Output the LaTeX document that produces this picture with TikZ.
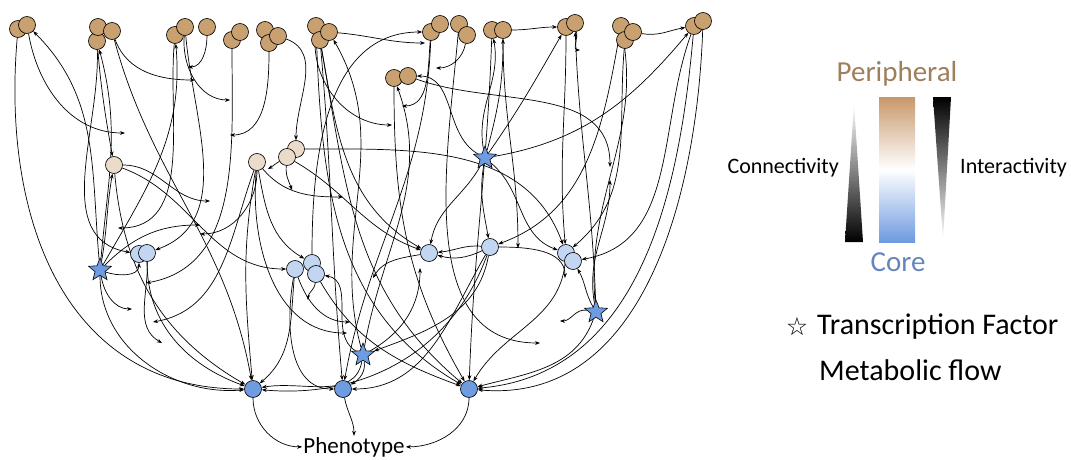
\documentclass[tikz,border=0pt]{standalone}
\usepackage{fontspec}
\setmainfont{Carlito}
\newfontfamily\dejavu{DejaVu Sans}
\usetikzlibrary{arrows.meta,shapes.geometric,backgrounds}
\definecolor{perc}{HTML}{C9A06F}
\definecolor{midc}{HTML}{EADBCB}
\definecolor{lbc}{HTML}{C2D5F1}
\definecolor{corec}{HTML}{6F9BE0}
\definecolor{pertxt}{HTML}{9F7E5C}
\definecolor{coretxt}{HTML}{6585BE}
\definecolor{barTop}{HTML}{C8986A}
\definecolor{barBot}{HTML}{6E9AE0}
\begin{document}
\begin{tikzpicture}[x=1pt,y=-1pt,
  nd/.style={circle,draw,line width=0.65pt,minimum size=17pt,inner sep=0pt},
  per/.style={nd,fill=perc},
  mid/.style={nd,fill=midc},
  lb/.style={nd,fill=lbc},
  core/.style={nd,fill=corec},
  tf/.style={star,star points=5,star point ratio=2.3,minimum size=24pt,inner sep=0pt,draw,line width=0.6pt,fill=corec},
  lnk/.style={-{Stealth[length=5pt,width=3.8pt]},line width=0.7pt},
  txt/.style={inner sep=0pt}]
\useasboundingbox (0,0) rectangle (1071,459);
% peripheral nodes
\node[per] (a1) at (18,29) {};
\node[per] (a2) at (27,25) {};
\node[per] (b2) at (97,41) {};
\node[per] (b1) at (98,27) {};
\node[per] (b3) at (112,31) {};
\node[per] (c1) at (175,35) {};
\node[per] (c2) at (185,27) {};
\node[per] (c3) at (207,27) {};
\node[per] (d1) at (232,40) {};
\node[per] (d2) at (240,32) {};
\node[per] (e1) at (265,30) {};
\node[per] (e2) at (269,43) {};
\node[per] (e3) at (278,36) {};
\node[per] (f1) at (316,26) {};
\node[per] (f2) at (320,40) {};
\node[per] (f3) at (329,32) {};
\node[per] (g1) at (431,32) {};
\node[per] (g2) at (440,24) {};
\node[per] (h1) at (459,24) {};
\node[per] (h2) at (467,35) {};
\node[per] (i1) at (492,30) {};
\node[per] (i2) at (503,30) {};
\node[per] (j1) at (566,27) {};
\node[per] (j2) at (575,23) {};
\node[per] (k1) at (621,26) {};
\node[per] (k2) at (625,40) {};
\node[per] (k3) at (633,32) {};
\node[per] (l1) at (694,26) {};
\node[per] (l2) at (703,21) {};
\node[per] (m1) at (394,78) {};
\node[per] (m2) at (408,76) {};
% intermediate
\node[mid] (t1) at (114,165) {};
\node[mid] (t2) at (257,162) {};
\node[mid] (t4) at (296,149) {};
\node[mid] (t3) at (287,157) {};
% light blue
\node[lb] (u1) at (139,254) {};
\node[lb] (u2) at (147,253) {};
\node[lb] (v1) at (295,269) {};
\node[lb] (v2) at (312,263) {};
\node[lb] (v3) at (316,274) {};
\node[lb] (w1) at (429,253) {};
\node[lb] (x1) at (490,247) {};
\node[lb] (y1) at (566,253) {};
\node[lb] (y2) at (573,261) {};
% transcription factors
\node[tf] (s1) at (100,270) {};
\node[tf] (s2) at (485,158) {};
\node[tf] (s3) at (363,355) {};
\node[tf] (s4) at (596,312) {};
% core
\node[core] (kA) at (253,389) {};
\node[core] (kB) at (343,389) {};
\node[core] (kC) at (469,389) {};
\node[txt,anchor=base,font=\fontsize{23}{27}\selectfont,inner sep=1pt] (ph) at (354,453) {Phenotype};
% free ends
\coordinate (p1) at (125,133);
\coordinate (p2) at (195,80);
\coordinate (p3) at (188,67);
\coordinate (p4) at (230,100);
\coordinate (p5) at (230,135);
\coordinate (p6) at (425,43);
\coordinate (p7) at (392,125);
\coordinate (p8) at (436,68);
\coordinate (p9) at (402,106);
\coordinate (p10) at (610,167);
\coordinate (p11) at (580,50);
\coordinate (p12) at (560,321);
\coordinate (p13) at (565,278);
\coordinate (p14) at (373,278);
\coordinate (p15) at (420,268);
\coordinate (p16) at (343,197);
\coordinate (p17) at (292,190);
\coordinate (p18) at (268,169);
\coordinate (p19) at (308,300);
\coordinate (p20) at (350,322);
\coordinate (p21) at (347,333);
\coordinate (p22) at (146,283);
\coordinate (p23) at (162,343);
\coordinate (p24) at (153,322);
\coordinate (p25) at (132,309);
\coordinate (p26) at (200,225);
\coordinate (p27) at (200,234);
\coordinate (p28) at (610,180);
\coordinate (p29) at (540,343);
\coordinate (p30) at (518,248);
\coordinate (p32) at (210,201);
\coordinate (p33) at (118,228);
\begin{scope}[on background layer]
\draw[lnk] (a1) to[out=-95,in=180,looseness=1.1] (kA);
\draw[lnk] (s1) to[out=-90,in=185] (kA);
\draw[lnk] (s1) to[out=95,in=-45] (a2);
\draw[lnk] (s1) to[out=85,in=-75] (b2);
\draw[lnk] (a2) to[out=-80,in=180] (p1);
\draw[lnk] (s1) to[out=60,in=-85] (c1);
\draw[lnk] (s1) to[out=80,in=-100] (t1);
\draw[lnk] (s1) to[out=-20,in=-90] (u1);
\draw[lnk] (s1) to[out=45,in=180] (p26);
\draw[lnk] (s1) to[out=-80,in=180] (p25);
\draw[lnk] (b2) to[out=-85,in=100] (t1);
\draw[lnk] (b3) to[out=-70,in=180] (p2);
\draw[lnk] (b3) to[out=-75,in=100] (kA);
\draw[lnk] (b2) to[out=-88,in=170] (u1);
\draw[lnk] (c3) to[out=-90,in=0] (p3);
\draw[lnk] (c2) to[out=-95,in=180] (p4);
\draw[lnk] (c2) to[out=-85,in=20] (u2);
\draw[lnk] (c1) to[out=-95,in=0] (p33);
\draw[lnk] (d1) to[out=-90,in=10] (p22);
\draw[lnk] (e2) to[out=-90,in=0] (p5);
\draw[lnk] (e3) to[out=-20,in=90] (t4);
\draw[lnk] (f3) to[out=-5,in=180] (p6);
\draw[lnk] (s3) to[out=105,in=-60] (f3);
\draw[lnk] (f1) to[out=-95,in=180] (p7);
\draw[lnk] (f1) to[out=-88,in=150] (kC);
\draw[lnk] (f2) to[out=-85,in=95] (kB);
\draw[lnk] (f2) to[out=-80,in=140] (kC);
\draw[lnk] (f2) to[out=-80,in=150] (w1);
\draw[lnk] (h2) to[out=-100,in=0] (p8);
\draw[lnk] (s3) to[out=80,in=-70] (m1);
\draw[lnk] (g1) to[out=-95,in=0] (p9);
\draw[lnk] (s2) to[out=150,in=0] (m2);
\draw[lnk] (m2) to[out=-20,in=90] (p10);
\draw[lnk] (s2) to[out=10,in=-130] (l1);
\draw[lnk] (k3) to[out=-10,in=190] (l1);
\draw[lnk] (i2) to[out=0,in=180] (j1);
\draw[lnk] (s2) to[out=100,in=-80] (i1);
\draw[lnk] (s2) to[out=75,in=-90] (i2);
\draw[lnk] (s2) to[out=55,in=-120] (j1);
\draw[lnk] (j2) to[out=-80,in=180] (p11);
\draw[lnk] (s4) to[out=95,in=-80] (k1);
\draw[lnk] (s4) to[out=92,in=-88] (j2);
\draw[lnk] (l2) to[out=-92,in=-5] (kC);
\draw[lnk] (l1) to[out=-95,in=5] (kC);
\draw[lnk] (s4) to[out=-110,in=15] (kC);
\draw[lnk] (s4) to[out=120,in=-60] (y2);
\draw[lnk] (s4) to[out=170,in=0] (p12);
\draw[lnk] (s4) to[out=100,in=-90] (p28);
\draw[lnk] (x1) to[out=0,in=90] (p13);
\draw[lnk] (x1) to[out=175,in=5] (w1);
\draw[lnk] (x1) to[out=205,in=-15] (w1);
\draw[lnk] (k1) to[out=-100,in=20] (x1);
\draw[lnk] (i2) to[out=-90,in=90] (p30);
\draw[lnk] (s2) to[out=-40,in=160] (y1);
\draw[lnk] (j1) to[out=-90,in=95] (y1);
\draw[lnk] (k2) to[out=-95,in=40] (y1);
\draw[lnk] (l1) to[out=-110,in=10] (y2);
\draw[lnk] (s2) to[out=-120,in=80] (w1);
\draw[lnk] (t3) to[out=-30,in=160] (w1);
\draw[lnk] (w1) to[out=190,in=60] (p14);
\draw[lnk] (s3) to[out=30,in=-90] (p15);
\draw[lnk] (x1) to[out=-100,in=20] (s3);
\draw[lnk] (s3) to[out=-100,in=10] (kA);
\draw[lnk] (x1) to[out=-110,in=-5] (kA);
\draw[lnk] (v1) to[out=-95,in=40] (kA);
\draw[lnk] (t2) to[out=-100,in=95] (kA);
\draw[lnk] (t2) to[out=-80,in=150] (v2);
\draw[lnk] (t2) to[out=-50,in=180] (p16);
\draw[lnk] (t3) to[out=-95,in=110] (p17);
\draw[lnk] (t3) to[out=210,in=30] (p18);
\draw[lnk] (t4) to[out=0,in=110] (y1);
\draw[lnk] (t1) to[out=-20,in=180] (v1);
\draw[lnk] (t1) to[out=0,in=180] (p32);
\draw[lnk] (t1) to[out=-85,in=150] (kA);
\draw[lnk] (u2) to[out=-90,in=160] (kA);
\draw[lnk] (s3) to[out=150,in=-10] (v3);
\draw[lnk] (v1) to[out=-100,in=180] (kB);
\draw[lnk] (v3) to[out=-95,in=90] (p19);
\draw[lnk] (v1) to[out=-70,in=180] (p20);
\draw[lnk] (t2) to[out=-95,in=180] (p21);
\draw[lnk] (s3) to[out=-80,in=30] (kB);
\draw[lnk] (x1) to[out=-120,in=0] (kB);
\draw[lnk] (v2) to[out=90,in=180] (g1);
\draw[lnk] (u2) to[out=-88,in=150] (p23);
\draw[lnk] (t2) to[out=-110,in=10] (p24);
\draw[lnk] (t2) to[out=-90,in=0] (p27);
\draw[lnk] (s2) to[out=-100,in=100] (x1);
\draw[lnk] (h1) to[out=-95,in=180] (p29);
\draw[lnk] (y1) to[out=-95,in=60] (kC);
\draw[lnk] (i1) to[out=-92,in=88] (kC);
\draw[lnk] (v3) to[out=-60,in=160] (kC);
\draw[lnk] (m1) to[out=-90,in=120] (kC);
\draw[lnk] (g1) to[out=-92,in=80] (kB);
\draw[lnk] (kA) to[out=-90,in=180] (ph);
\draw[lnk] (kB) to[out=-80,in=90] (ph);
\draw[lnk] (kC) to[out=-90,in=0] (ph);
\end{scope}
% legend
\shade[top color=white,bottom color=black] (845,242) -- (863,242) -- (854,103) -- cycle;
\shade[top color=black,bottom color=white] (933,97) -- (951,97) -- (943,240) -- cycle;
\shade[top color=barTop,bottom color=barBot,middle color=white] (879,97) rectangle (915,242);
\node[txt,font=\fontsize{29}{34}\selectfont,text=pertxt] (lper) at (897,74) {Peripheral};
\node[txt,font=\fontsize{29}{34}\selectfont,text=coretxt] (lcore) at (898,262) {Core};
\node[txt,anchor=east,font=\fontsize{22}{26}\selectfont] (lcon) at (839,168) {Connectivity};
\node[txt,anchor=west,font=\fontsize{22}{26}\selectfont] (lint) at (960,168) {Interactivity};
\node[txt,font=\fontsize{25}{30}\selectfont\dejavu] (lstar) at (797,327) {☆};
\node[txt,anchor=west,font=\fontsize{30}{36}\selectfont] (ltf) at (817,327) {Transcription Factor};
\node[txt,anchor=west,font=\fontsize{30}{36}\selectfont] (lmf) at (819,370) {Metabolic flow};
\end{tikzpicture}
\end{document}
